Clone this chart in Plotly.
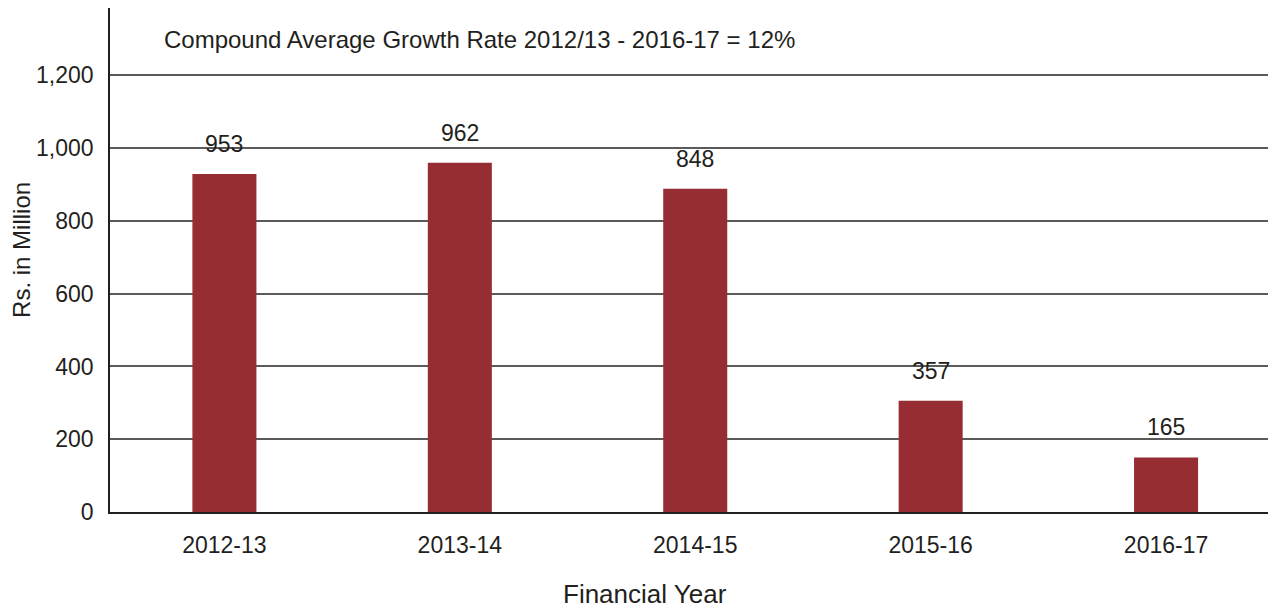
import plotly.graph_objects as go

years = ["2012-13", "2013-14", "2014-15", "2015-16", "2016-17"]
bar_values = [929, 960, 888, 306, 150]
label_texts = ["953", "962", "848", "357", "165"]
note_text = "Compound Average Growth Rate 2012/13 - 2016-17 = 12%"
x_title = "Financial Year"
y_title = "Rs. in Million"
y_ticks = [0, 200, 400, 600, 800, 1000, 1200]

FONT = "Liberation Sans, Arial, Helvetica, sans-serif"
BAR_COLOR = "#952D33"
TXT = "#231F20"

fig = go.Figure()
fig.add_trace(go.Bar(
    x=years, y=bar_values, marker_color=BAR_COLOR, marker_line_width=0,
    width=0.272, hoverinfo="skip"
))

for yr, v, t in zip(years, bar_values, label_texts):
    fig.add_annotation(x=yr, y=v, text=t, showarrow=False, yanchor="bottom",
                       yshift=15, font=dict(family=FONT, size=23, color=TXT))

fig.add_annotation(xref="paper", yref="paper", x=0.045, y=0.937, xanchor="left",
                   yanchor="middle", text=note_text, showarrow=False,
                   font=dict(family=FONT, size=24, color=TXT))
fig.add_annotation(xref="paper", yref="paper", x=0.462, y=-0.1635, xanchor="center",
                   yanchor="middle", text=x_title, showarrow=False,
                   font=dict(family=FONT, size=26, color=TXT))
fig.add_annotation(xref="paper", yref="paper", x=-0.076, y=0.52, xanchor="center",
                   yanchor="middle", text=y_title, showarrow=False, textangle=-90,
                   font=dict(family=FONT, size=24, color=TXT))

fig.update_layout(
    width=1272, height=611,
    margin=dict(l=110, r=4, t=8, b=99),
    plot_bgcolor="white", paper_bgcolor="white",
    showlegend=False,
    font=dict(family=FONT, size=23, color=TXT),
)
fig.update_xaxes(
    type="category", range=[-0.486, 4.433], automargin=False,
    showline=True, linecolor="#231F20", linewidth=1.5,
    showgrid=False, ticks="", ticklabelstandoff=12,
    tickfont=dict(family=FONT, size=23, color=TXT),
)
fig.update_yaxes(
    range=[0, 1385], tickvals=y_ticks, tickformat=",", automargin=False,
    showline=True, linecolor="#231F20", linewidth=1.5,
    showgrid=True, gridcolor="#5a5a5a", gridwidth=1.5,
    zeroline=False, ticks="", ticklabelstandoff=10,
    tickfont=dict(family=FONT, size=23, color=TXT),
)

fig.write_html("out.html", config={"displayModeBar": False},
               post_script="document.body.style.margin='0';document.body.style.overflow='hidden';")
